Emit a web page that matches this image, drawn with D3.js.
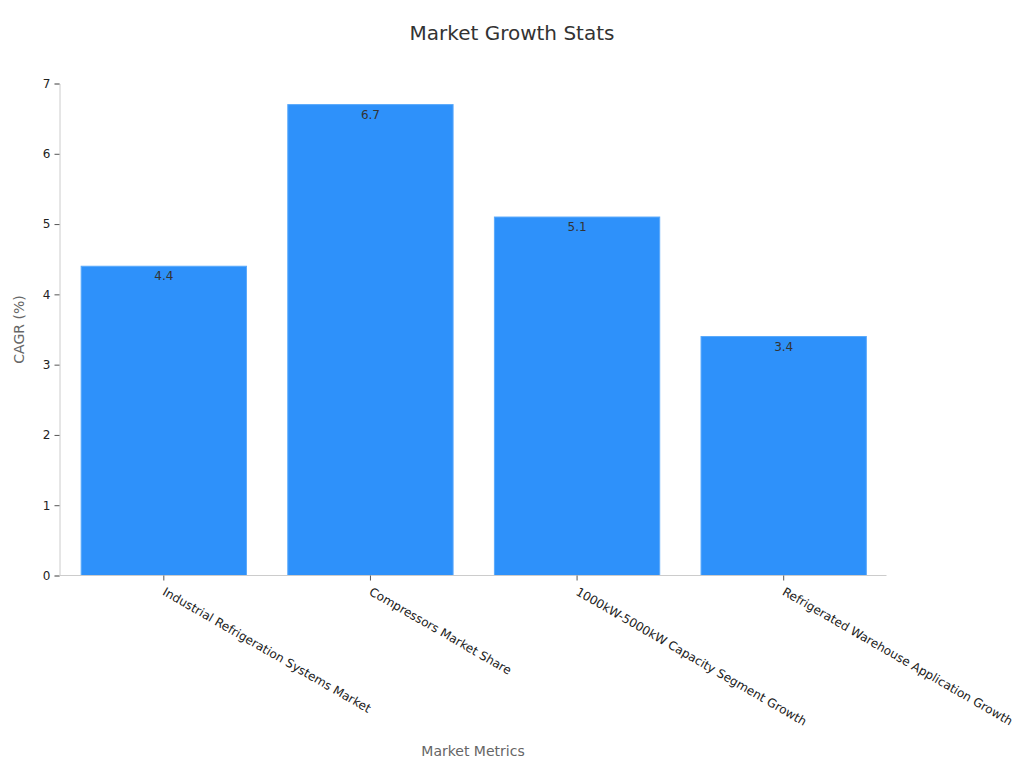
<!DOCTYPE html>
<html><head><meta charset="utf-8">
<script src="https://cdn.jsdelivr.net/npm/d3@7"></script>
<style>body{margin:0;background:#fff;font-family:"DejaVu Sans",sans-serif;}</style>
</head><body>
<svg id="chart" width="1024" height="768"></svg>
<script>
const categories = ["Industrial Refrigeration Systems Market","Compressors Market Share","1000kW-5000kW Capacity Segment Growth","Refrigerated Warehouse Application Growth"];
const values = [4.4, 6.7, 5.1, 3.4];
const yTicks = [0,1,2,3,4,5,6,7];
const title = "Market Growth Stats";
const xLabel = "Market Metrics";
const yLabel = "CAGR (%)";

const svg = d3.select("#chart");
const m = {l:59.5, r:886.5, t:83.5, b:575.5};
const x = d3.scaleBand().domain(categories).range([60.5, 887]).paddingInner(0.2).paddingOuter(0.1);
const y = d3.scaleLinear().domain([0,7]).range([m.b, m.t]);

svg.append("text").attr("x",512).attr("y",40).attr("text-anchor","middle")
  .attr("font-size",20).attr("fill","#333").text(title);

svg.selectAll("rect.bar").data(values).join("rect").attr("class","bar")
  .attr("x",(d,i)=>x(categories[i])).attr("width",x.bandwidth())
  .attr("y",d=>y(d)).attr("height",d=>y(0)-y(d))
  .attr("fill","#2e91fa").attr("stroke","#5aa9fb").attr("stroke-width",1);

svg.selectAll("text.val").data(values).join("text").attr("class","val")
  .attr("x",(d,i)=>x(categories[i])+x.bandwidth()/2).attr("y",d=>y(d)+14)
  .attr("text-anchor","middle").attr("font-size",12).attr("fill","#333").text(d=>d);

const ya = svg.append("g").attr("transform",`translate(${m.l},0)`)
  .call(d3.axisLeft(y).tickValues(yTicks).tickFormat(d3.format("d")).tickSize(5).tickPadding(4));
ya.select(".domain").attr("stroke","#ccc");
ya.selectAll(".tick line").attr("stroke","#555");
ya.selectAll(".tick text").attr("font-size",12).attr("fill","#222").attr("font-family","DejaVu Sans");

const xa = svg.append("g").attr("transform",`translate(0,${m.b})`)
  .call(d3.axisBottom(x).tickSize(5).tickSizeOuter(0));
xa.select(".domain").attr("stroke","#ccc").attr("d",`M${m.l},0H${m.r}`);
xa.selectAll(".tick line").attr("stroke","#555");
xa.selectAll(".tick text").attr("font-size",12).attr("fill","#222").attr("font-family","DejaVu Sans")
  .attr("text-anchor","start").attr("transform","translate(0,15) rotate(30)").attr("dy","0.35em").attr("y",0).attr("x",0);

svg.append("text").attr("x",(m.l+m.r)/2).attr("y",756).attr("text-anchor","middle")
  .attr("font-size",14).attr("fill","#666").text(xLabel);
svg.append("text").attr("transform",`translate(24,${(m.t+m.b)/2}) rotate(-90)`).attr("text-anchor","middle")
  .attr("font-size",14).attr("fill","#666").text(yLabel);
</script>
</body></html>
